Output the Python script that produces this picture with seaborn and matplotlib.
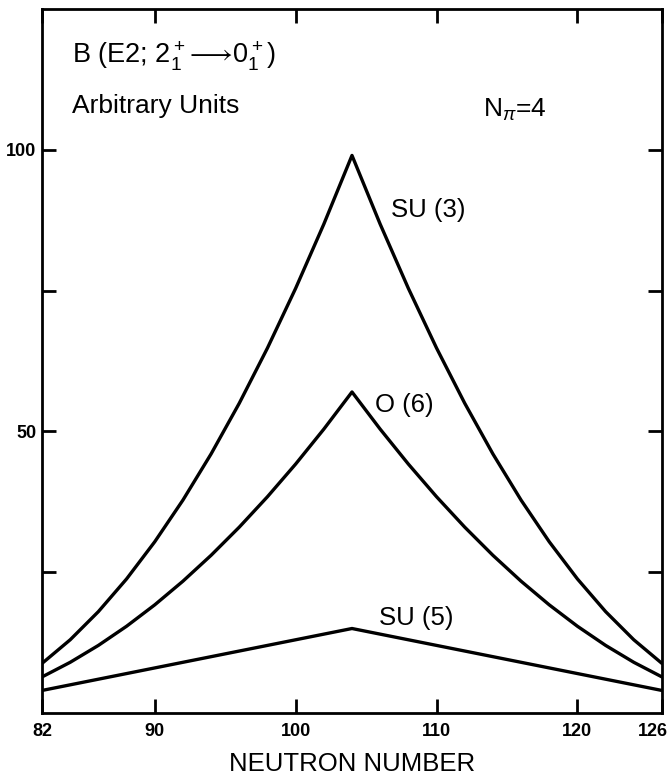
import matplotlib
matplotlib.use("Agg")
import matplotlib.pyplot as plt
import matplotlib.transforms as mtransforms
import pandas as pd
import seaborn as sns

# Neutron numbers across the 82-126 shell
neutron_number = [82, 84, 86, 88, 90, 92, 94, 96, 98, 100, 102, 104,
                  106, 108, 110, 112, 114, 116, 118, 120, 122, 124, 126]

# B(E2; 2+ -> 0+) in arbitrary units for the three dynamical symmetries
su3_values = [8.8, 13.0, 18.0, 23.8, 30.4, 37.8, 46.0, 55.0, 64.8, 75.4, 86.8, 99.0,
              86.8, 75.4, 64.8, 55.0, 46.0, 37.8, 30.4, 23.8, 18.0, 13.0, 8.8]
o6_values = [6.4, 9.0, 12.0, 15.4, 19.2, 23.4, 28.0, 33.0, 38.4, 44.2, 50.4, 57.0,
             50.4, 44.2, 38.4, 33.0, 28.0, 23.4, 19.2, 15.4, 12.0, 9.0, 6.4]
su5_values = [4, 5, 6, 7, 8, 9, 10, 11, 12, 13, 14, 15,
              14, 13, 12, 11, 10, 9, 8, 7, 6, 5, 4]

series_names = ["SU (3)", "O (6)", "SU (5)"]

x_tick_values = [82, 90, 100, 110, 120, 126]
x_tick_labels = ["82", "90", "100", "110", "120", "126"]
y_tick_values = [25, 50, 75, 100]
y_tick_labels = ["", "50", "", "100"]

frames = []
for name, vals in zip(series_names, [su3_values, o6_values, su5_values]):
    frames.append(pd.DataFrame({"N": neutron_number, "BE2": vals, "model": name}))
df = pd.concat(frames, ignore_index=True)

sns.set_theme(style="ticks")
plt.rcParams["font.family"] = ["Liberation Sans", "DejaVu Sans"]
plt.rcParams["mathtext.fontset"] = "custom"
plt.rcParams["mathtext.rm"] = "Liberation Sans"
plt.rcParams["mathtext.it"] = "Liberation Sans:italic"
plt.rcParams["mathtext.bf"] = "Liberation Sans:bold"

fig = plt.figure(figsize=(6.69, 7.76), dpi=100)
ax = fig.add_axes([0.0628, 0.0812, 0.9267, 0.9072])

sns.lineplot(data=df, x="N", y="BE2", hue="model", hue_order=series_names,
             palette=["black"] * 3, linewidth=2.4, legend=False, ax=ax)

ax.set_xlim(82, 126)
ax.set_ylim(0, 125)

ax.set_xticks(x_tick_values)
ax.set_xticklabels(x_tick_labels, fontweight="bold")
ax.set_yticks(y_tick_values)
ax.set_yticklabels(y_tick_labels, fontweight="bold")

for side in ["left", "right", "top", "bottom"]:
    ax.spines[side].set_visible(True)
    ax.spines[side].set_linewidth(2.0)
    ax.spines[side].set_color("black")

ax.tick_params(axis="both", which="both", direction="in", length=10, width=2,
               color="black", labelcolor="black", labelsize=13,
               top=True, right=True)
ax.tick_params(axis="x", pad=7)
ax.tick_params(axis="y", pad=4)

# keep the outermost x labels inside the figure
xlabels = ax.get_xticklabels()
xlabels[-1].set_horizontalalignment("right")
xlabels[-1].set_transform(xlabels[-1].get_transform() +
                          mtransforms.ScaledTranslation(6 / 100, 0, fig.dpi_scale_trans))

ax.set_xlabel("NEUTRON NUMBER", fontsize=18.5, labelpad=9, color="black")
ax.set_ylabel("")

# Annotations
ax.text(84.1, 115.4, r"B (E2; $2^+_1\!\longrightarrow\! 0^+_1$)", fontsize=19.5,
        ha="left", va="baseline", color="black")
ax.text(84.1, 106.5, "Arbitrary Units", fontsize=19, ha="left", va="baseline",
        color="black")
ax.text(113.3, 105.8, r"N$_{\pi}$=4", fontsize=19, ha="left", va="baseline",
        color="black")

ax.text(106.8, 88.1, "SU (3)", fontsize=18.5, ha="left", va="baseline", color="black")
ax.text(105.6, 53.4, "O (6)", fontsize=18.5, ha="left", va="baseline", color="black")
ax.text(105.9, 15.6, "SU (5)", fontsize=18.5, ha="left", va="baseline", color="black")

fig.savefig("out.png", dpi=100)
